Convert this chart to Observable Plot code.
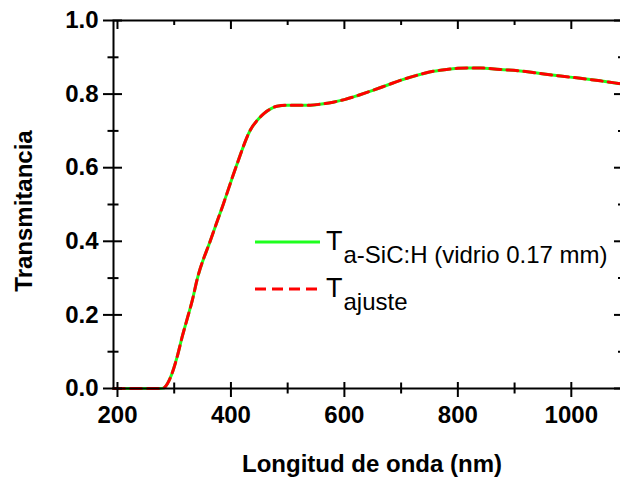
<!DOCTYPE html>
<html>
<head>
<meta charset="utf-8">
<script src="https://cdn.jsdelivr.net/npm/d3@7"></script>
<script src="https://cdn.jsdelivr.net/npm/@observablehq/plot@0.6"></script>
<style>
  html, body { margin: 0; padding: 0; background: #fff; overflow: hidden; }
  #wrap { position: relative; width: 620px; height: 479px; overflow: hidden; }
  #wrap > svg { max-width: none !important; }
</style>
</head>
<body>
<div id="wrap"></div>
<script>
// Data
const wavelength = [193, 230, 260, 275, 281, 288, 296, 305, 314, 323, 332, 340, 364, 387, 411, 434, 450, 458, 470, 481, 500, 517, 540, 560, 580, 600, 625, 650, 675, 700, 730, 757, 780, 800, 820, 840, 860, 875, 910, 945, 981, 1016, 1051, 1083, 1092];
const tMeasured = [0, 0, 0, 0, 0.001, 0.013, 0.04, 0.085, 0.14, 0.19, 0.24, 0.294, 0.403, 0.503, 0.611, 0.702, 0.735, 0.747, 0.760, 0.767, 0.770, 0.770, 0.770, 0.773, 0.778, 0.785, 0.797, 0.810, 0.824, 0.838, 0.852, 0.862, 0.867, 0.870, 0.871, 0.871, 0.869, 0.867, 0.863, 0.856, 0.849, 0.843, 0.836, 0.829, 0.827];
const tFit = [0, 0, 0, 0, 0.001, 0.013, 0.04, 0.085, 0.14, 0.19, 0.24, 0.294, 0.403, 0.503, 0.611, 0.702, 0.735, 0.747, 0.760, 0.767, 0.770, 0.770, 0.770, 0.773, 0.778, 0.785, 0.797, 0.810, 0.824, 0.838, 0.852, 0.862, 0.867, 0.870, 0.871, 0.871, 0.869, 0.867, 0.863, 0.856, 0.849, 0.843, 0.836, 0.829, 0.827];

const xMajor = [200, 400, 600, 800, 1000];
const xMinor = [300, 500, 700, 900];
const yMajor = [0, 0.2, 0.4, 0.6, 0.8, 1.0];
const yMinor = [0.1, 0.3, 0.5, 0.7, 0.9];
const xTitle = "Longitud de onda (nm)";
const yTitle = "Transmitancia";
const seriesNames = ["a-SiC:H (vidrio 0.17 mm)", "ajuste"];
const seriesColors = ["#1eff1e", "#ff0000"];

const measured = wavelength.map((w, i) => ({w, t: tMeasured[i]}));
const fit = wavelength.map((w, i) => ({w, t: tFit[i]}));

// layout
const W = 626, H = 479, mL = 113, mR = 3, mT = 20, mB = 91;
const xDomain = [193, 1092], yDomain = [0, 1];
// pixel -> data unit factors (for tick lengths)
const px = (xDomain[1] - xDomain[0]) / (W - mL - mR);
const py = (yDomain[1] - yDomain[0]) / (H - mT - mB);

const font = "'Liberation Sans', Arial, sans-serif";
const blank = () => "";
const tk = {stroke: "#000", strokeWidth: 2};
const lab = {fontSize: 24, fontWeight: "bold", label: null, tickSize: 0};

const chart = Plot.plot({
  width: W,
  height: H,
  marginLeft: mL,
  marginRight: mR,
  marginTop: mT,
  marginBottom: mB,
  style: {fontFamily: font},
  x: {domain: xDomain},
  y: {domain: yDomain},
  marks: [
    Plot.line(measured, {x: "w", y: "t", stroke: seriesColors[0], strokeWidth: 3, curve: "monotone-x"}),
    Plot.line(fit, {x: "w", y: "t", stroke: seriesColors[1], strokeWidth: 3, strokeDasharray: "11,6", curve: "monotone-x"}),
    Plot.frame({stroke: "#000", strokeWidth: 2}),
    // left ticks (crossing)
    Plot.ruleY(yMajor, {...tk, x1: xDomain[0] - 10 * px, x2: xDomain[0] + 9 * px}),
    Plot.ruleY(yMinor, {...tk, x1: xDomain[0] - 5.5 * px, x2: xDomain[0] + 5.5 * px}),
    // right ticks (inward)
    Plot.ruleY(yMajor, {...tk, x1: xDomain[1] - 9 * px, x2: xDomain[1]}),
    Plot.ruleY(yMinor, {...tk, x1: xDomain[1] - 5 * px, x2: xDomain[1]}),
    // bottom ticks (crossing)
    Plot.ruleX(xMajor, {...tk, y1: yDomain[0] - 9 * py, y2: yDomain[0] + 6 * py}),
    Plot.ruleX(xMinor, {...tk, y1: yDomain[0] - 5.5 * py, y2: yDomain[0] + 5.5 * py}),
    // top ticks (inward)
    Plot.ruleX(xMajor, {...tk, y1: yDomain[1] - 9 * py, y2: yDomain[1]}),
    Plot.ruleX(xMinor, {...tk, y1: yDomain[1] - 5 * py, y2: yDomain[1]}),
    // tick labels
    Plot.axisY({...lab, ticks: yMajor, tickPadding: 15, tickFormat: d3.format(".1f")}),
    Plot.axisX({...lab, ticks: xMajor, tickPadding: 17, tickFormat: d3.format("d")})
  ]
});
document.getElementById("wrap").appendChild(chart);

// Axis titles and legend (annotations), drawn inside the chart's SVG
const ns = "http://www.w3.org/2000/svg";
const ann = document.createElementNS(ns, "g");
ann.setAttribute("aria-label", "annotations");
ann.setAttribute("fill", "#000");

const xt = document.createElementNS(ns, "text");
xt.setAttribute("x", (mL + (W - mR)) / 2 + 4);
xt.setAttribute("y", 472);
xt.setAttribute("text-anchor", "middle");
xt.setAttribute("font-size", 24);
xt.setAttribute("font-weight", "bold");
xt.textContent = xTitle;
ann.appendChild(xt);

const yt = document.createElementNS(ns, "text");
yt.setAttribute("transform", `translate(32, ${(mT + (H - mB)) / 2 + 7}) rotate(-90)`);
yt.setAttribute("text-anchor", "middle");
yt.setAttribute("font-size", 24);
yt.setAttribute("font-weight", "bold");
yt.textContent = yTitle;
ann.appendChild(yt);

const items = [
  {y: 242, color: seriesColors[0], dash: null, sub: seriesNames[0]},
  {y: 289, color: seriesColors[1], dash: "11,6", sub: seriesNames[1]}
];
items.forEach(it => {
  const ln = document.createElementNS(ns, "line");
  ln.setAttribute("x1", 255); ln.setAttribute("x2", 320);
  ln.setAttribute("y1", it.y); ln.setAttribute("y2", it.y);
  ln.setAttribute("stroke", it.color); ln.setAttribute("stroke-width", 3);
  if (it.dash) ln.setAttribute("stroke-dasharray", it.dash);
  ann.appendChild(ln);
  const tx = document.createElementNS(ns, "text");
  tx.setAttribute("x", 326);
  tx.setAttribute("y", it.y + 7.5);
  tx.setAttribute("font-size", 27);
  tx.setAttribute("text-anchor", "start");
  tx.textContent = "T";
  const ts = document.createElementNS(ns, "tspan");
  ts.setAttribute("font-size", 24);
  ts.setAttribute("dy", 13.5);
  ts.setAttribute("dx", 1);
  ts.textContent = it.sub;
  tx.appendChild(ts);
  ann.appendChild(tx);
});
chart.appendChild(ann);
</script>
</body>
</html>
